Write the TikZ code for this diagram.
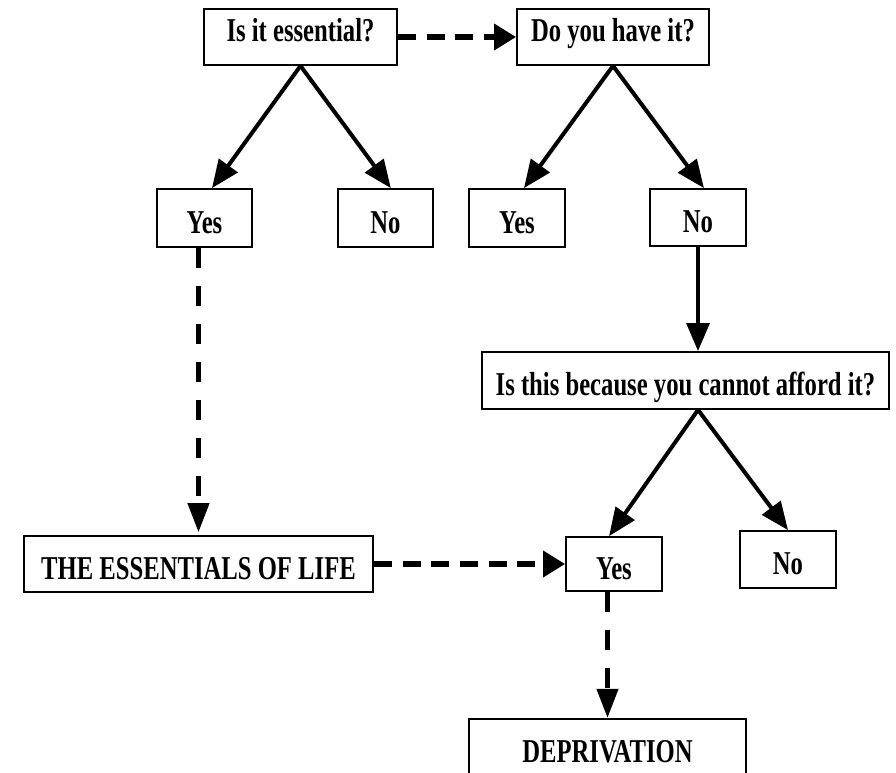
\documentclass[tikz,border=0pt]{standalone}
\usepackage{fontspec}
\setmainfont{Liberation Serif}[FakeStretch=0.74]
\usetikzlibrary{arrows.meta}
\tikzset{
 box/.style={draw, line width=1.3pt, inner sep=0pt, font=\bfseries\fontsize{25}{29}\selectfont, text height=22.5pt, text depth=0pt},
 hightext/.style={text height=7pt, text depth=0pt},
 midtext/.style={text height=15pt, text depth=0pt},
 sz/.style 2 args={minimum width=#1*0.75pt, minimum height=#2*0.75pt},
 solidarr/.style={line width=3pt, -{Triangle[length=21pt,width=17pt]}},
 dashh/.style={line width=4.2pt, dash pattern=on 13.5pt off 8pt, -{Triangle[length=16.5pt,width=19pt]}},
 dashv/.style={line width=4pt, dash pattern=on 15pt off 13.5pt, -{Triangle[length=22pt,width=15.5pt]}},
}
\begin{document}
\begin{tikzpicture}[x=0.75pt,y=-0.75pt]
\useasboundingbox (0,0) rectangle (896,772);
\node[box,hightext,sz={193}{56}] (ess) at (300.5,37) {Is it essential?};
\node[box,hightext,sz={192}{56}] (have) at (613,37) {Do you have it?};
\node[box,sz={95}{58}] (yes1) at (204.5,218) {Yes};
\node[box,sz={95}{58}] (no1) at (385.5,218) {No};
\node[box,sz={96}{58}] (yes2) at (517,218) {Yes};
\node[box,sz={96}{57}] (no2) at (698,217.5) {No};
\node[box,sz={407}{57}] (afford) at (685.5,380.5) {Is this because you cannot afford it?};
\node[box,sz={349}{56}] (life) at (198.5,564) {THE ESSENTIALS OF LIFE};
\node[box,sz={96}{54}] (yes3) at (614,564) {Yes};
\node[box,sz={96}{57}] (no3) at (788,559.5) {No};
\node[box,midtext,sz={277}{66}] (dep) at (607.5,752) {DEPRIVATION};
% connectors
\draw[dashh] (ess.east) -- (have.west);
\draw[solidarr] (ess.south) -- ([xshift=5.6pt]yes1.north);
\draw[solidarr] (ess.south) -- ([xshift=4pt]no1.north);
\draw[solidarr] (have.south) -- ([xshift=5.2pt]yes2.north);
\draw[solidarr] (have.south) -- ([xshift=4.5pt]no2.north);
\draw[solidarr] (no2.south) -- (no2.south |- afford.north);
\coordinate (apex) at ([xshift=9.4pt]afford.south);
\draw[solidarr] (apex) -- ([xshift=-3.7pt]yes3.north);
\draw[solidarr] (apex) -- (no3.north);
\draw[dashv] (life.north |- yes1.south) -- ([yshift=2pt]life.north);
\draw[dashh] (life.east) -- (yes3.west);
\draw[dashv] (dep.north |- yes3.south) -- (dep.north);
\end{tikzpicture}
\end{document}
